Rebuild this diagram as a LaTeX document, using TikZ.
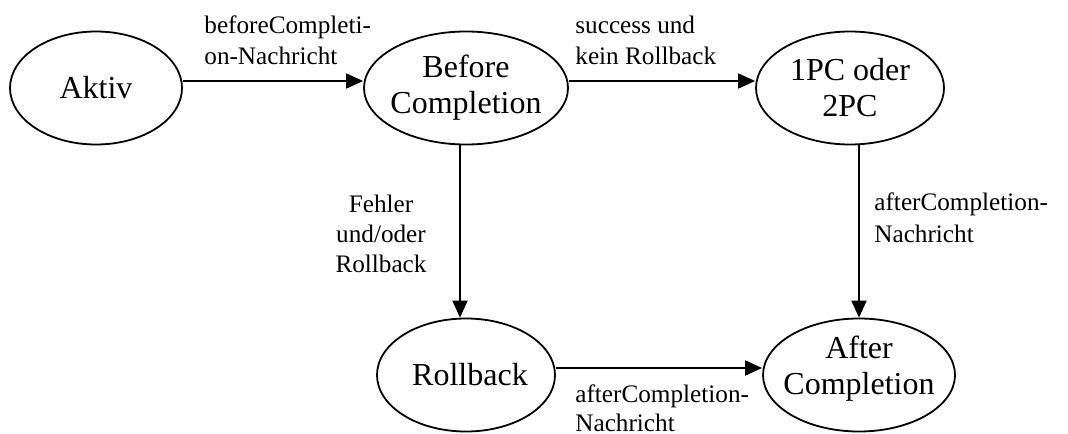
\documentclass[tikz,border=0pt]{standalone}
\usepackage{fontspec}
\setmainfont{Liberation Serif}
\usetikzlibrary{shapes.geometric,arrows.meta}
\begin{document}
\begin{tikzpicture}[x=0.5pt,y=-0.5pt,
  state/.style={ellipse,draw,line width=0.9pt,inner sep=0pt,minimum height=56.5pt},
  statetext/.style={align=center,inner sep=0pt,font=\fontsize{16}{18}\selectfont},
  edgetext/.style={inner sep=0pt,anchor=base west,align=left,font=\fontsize{12.6}{15.8}\selectfont},
  arr/.style={line width=0.9pt,-{Triangle[length=8.5pt,width=7.5pt]}}]
\useasboundingbox (0,0) rectangle (1068,433);

% states
\node[state,minimum width=86pt]  (akt) at (96,88)  {};
\node[state,minimum width=102pt] (bc)  at (466,88) {};
\node[state,minimum width=94pt]  (pc)  at (850,88) {};
\node[state,minimum width=89pt]  (rb)  at (466,375) {};
\node[state,minimum width=96pt]  (ac)  at (859,375) {};

\node[statetext] (aktt) at (akt) {Aktiv};
\node[statetext] (bct)  at (bc)  {Before\\Completion};
\node[statetext] (pct)  at (pc)  {1PC oder\\2PC};
\node[statetext] (rbt)  at ([xshift=2pt]rb.center) {Rollback};
\node[statetext] (act)  at ([yshift=3pt]ac.center) {After\\Completion};

% transitions
\draw[arr] ([yshift=3.5pt]akt.east) -- ([yshift=3.5pt]bc.west);
\draw[arr] ([yshift=3.5pt]bc.east) -- ([yshift=3.5pt]pc.west);
\draw[arr] ([xshift=-3pt]bc.south) -- ([xshift=-3pt]rb.north);
\draw[arr] (pc.south -| ac.north) -- (ac.north);
\draw[arr] ([yshift=3.5pt]rb.east) -- ([yshift=3.5pt]ac.west);

% transition labels (placed by the baseline of their last line)
\node[edgetext] (l1) at (204,65) {beforeCompleti-\\on-Nachricht};
\node[edgetext] (l2) at (575,65) {success und\\kein Rollback};
\node[edgetext,align=center,anchor=base,font=\fontsize{12.6}{15}\selectfont] (l3) at (381,272) {Fehler\\und/oder\\Rollback};
\node[edgetext] (l4) at (874,242) {afterCompletion-\\Nachricht};
\node[edgetext,font=\fontsize{12.6}{14.5}\selectfont] (l5) at (575,431) {afterCompletion-\\Nachricht};
\end{tikzpicture}
\end{document}
